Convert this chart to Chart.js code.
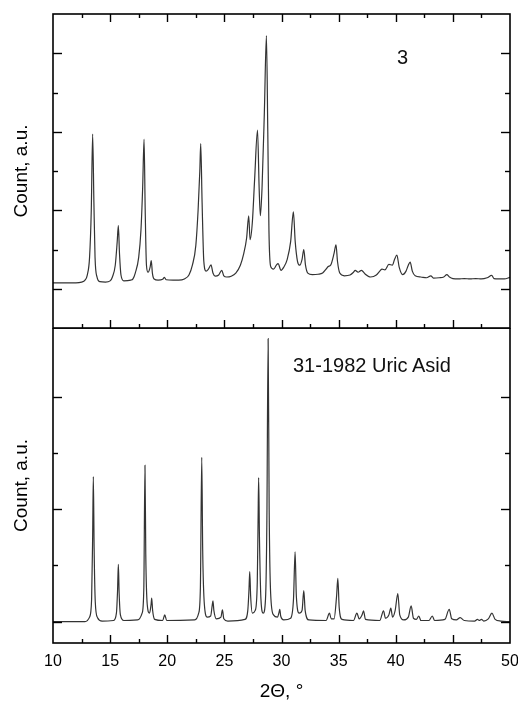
<!DOCTYPE html>
<html>
<head>
<meta charset="utf-8">
<script src="https://cdn.jsdelivr.net/npm/chart.js@4/dist/chart.umd.min.js"></script>
<style>
  body { margin: 0; background: #fff; }
  #wrap { position: relative; width: 518px; height: 701px; overflow: hidden; font-family: "Liberation Sans", Arial, sans-serif; }
  canvas { position: absolute; left: 0; }
  #cTop { top: 0; }
  #cBot { top: 328px; }
  .lbl { position: absolute; font-size: 20px; color: #111; white-space: nowrap; line-height: 1; }
</style>
</head>
<body>
<div id="wrap">
  <canvas id="cTop" width="518" height="329"></canvas>
  <canvas id="cBot" width="518" height="373"></canvas>
  <div class="lbl" style="left:397px; top:47px;">3</div>
  <div class="lbl" style="left:293px; top:355px;">31-1982 Uric Asid</div>
</div>
<script>
// ---------------------------------------------------------------
// données (2θ en degrés, intensité en u.a.)
// ---------------------------------------------------------------
var xMin = 10, xMax = 50, xLabelStep = 5;

// échantillon "3" (panneau du haut)
var sampleTheta = [10, 11, 12, 12.5, 12.8, 13.0, 13.2, 13.35, 13.47, 13.58, 13.68, 13.85, 14.1, 14.6, 15.0,
  15.2, 15.45, 15.62, 15.72, 15.82, 15.95, 16.2, 16.8, 17.0,
  17.2, 17.5, 17.7, 17.85, 17.97, 18.07, 18.18, 18.32, 18.5, 18.6, 18.7, 18.85, 19.2, 19.6, 19.75, 19.9, 20.5, 21.0, 21.5,
  21.9, 22.2, 22.5, 22.7, 22.85, 22.93, 23.05, 23.2, 23.4, 23.6, 23.83, 24.0, 24.2, 24.5, 24.77, 24.95, 25.2, 25.6,
  26.0, 26.4, 26.7, 26.95, 27.13, 27.25, 27.45, 27.65, 27.9, 28.05, 28.15, 28.3, 28.5, 28.68, 28.8, 28.9, 29.05,
  29.3, 29.55, 29.7, 29.96, 30.2, 30.5, 30.8, 31.04, 31.2, 31.4, 31.6, 31.8, 31.95, 32.1, 32.3, 32.7, 33.2, 33.6,
  33.9, 34.1, 34.3, 34.6, 34.77, 34.9, 35.1, 35.5, 36.0, 36.3, 36.45, 36.7, 37.0, 37.3, 37.8, 38.3, 38.6, 38.8,
  39.05, 39.4, 39.7, 39.9, 40.1, 40.3, 40.6, 40.9, 41.1, 41.26, 41.45, 41.7, 42.2, 42.7, 43.07, 43.3, 43.8, 44.2,
  44.47, 44.7, 45.0, 45.5, 46.0, 46.5, 47.0, 47.5, 48.0, 48.4, 48.6, 49.0, 49.5, 50];
var sampleCount = [0.15, 0.15, 0.15, 0.17, 0.22, 0.35, 0.8, 2.0, 3.94, 2.2, 0.8, 0.3, 0.18, 0.17, 0.2,
  0.3, 0.6, 1.2, 1.61, 0.9, 0.35, 0.2, 0.22, 0.25,
  0.4, 0.8, 1.5, 2.6, 3.81, 2.0, 0.6, 0.42, 0.55, 0.72, 0.4, 0.25, 0.22, 0.24, 0.29, 0.23, 0.22, 0.22, 0.25,
  0.35, 0.6, 1.1, 2.0, 3.0, 3.70, 2.2, 0.7, 0.45, 0.5, 0.61, 0.4, 0.32, 0.35, 0.47, 0.33, 0.3, 0.32,
  0.4, 0.6, 0.9, 1.3, 1.86, 1.25, 1.7, 2.8, 4.04, 2.5, 1.86, 2.6, 4.5, 6.45, 4.0, 1.5, 0.57,
  0.5, 0.6, 0.64, 0.47, 0.55, 0.75, 1.2, 1.96, 1.2, 0.7, 0.6, 0.75, 1.0, 0.6, 0.4, 0.36, 0.37, 0.4,
  0.5, 0.57, 0.6, 0.9, 1.12, 0.7, 0.4, 0.33, 0.35, 0.42, 0.47, 0.42, 0.47, 0.38, 0.3, 0.35, 0.45, 0.5,
  0.48, 0.62, 0.6, 0.75, 0.86, 0.55, 0.36, 0.45, 0.6, 0.68, 0.45, 0.33, 0.3, 0.28, 0.33, 0.27, 0.28, 0.3,
  0.36, 0.3, 0.26, 0.25, 0.26, 0.25, 0.26, 0.25, 0.28, 0.34, 0.26, 0.25, 0.25, 0.29];

// fiche 31-1982 acide urique (panneau du bas)
var refTheta = [10, 12.8, 13.2, 13.38, 13.47, 13.53, 13.6, 13.7, 13.9, 14.3, 15.3, 15.55, 15.65, 15.72, 15.79, 15.9, 16.2,
  17.4, 17.8, 17.95, 18.05, 18.12, 18.25, 18.45, 18.58, 18.64, 18.72, 18.9, 19.6, 19.78, 19.95,
  22.4, 22.75, 22.9, 23.02, 23.1, 23.25, 23.5, 23.8, 23.93, 24.0, 24.08, 24.3, 24.7, 24.83, 24.95, 25.3,
  26.8, 27.05, 27.15, 27.22, 27.3, 27.45, 27.7, 27.88, 27.95, 28.0, 28.07, 28.2, 28.4, 28.6, 28.72, 28.83, 28.92, 29.05,
  29.3, 29.65, 29.78, 29.85, 29.93, 30.2, 30.8, 31.05, 31.19, 31.3, 31.55, 31.8, 31.95, 32.07, 32.4,
  33.9, 34.2, 34.35, 34.6, 34.82, 34.93, 35.05, 35.3, 36.3, 36.6, 36.8, 37.05, 37.18, 37.35,
  38.6, 38.93, 39.1, 39.4, 39.57, 39.72, 39.95, 40.18, 40.35, 40.7, 41.1, 41.35, 41.55, 41.8, 42.02, 42.2,
  42.9, 43.2, 43.4, 44.3, 44.68, 44.9, 45.3, 45.64, 46.0, 46.9, 47.15, 47.3, 47.5, 47.7, 48.1, 48.42, 48.7, 49.2, 50];
var refCount = [0, 0, 0.08, 0.4, 1.5, 2.58, 1.3, 0.35, 0.07, 0.01, 0.02, 0.15, 0.55, 1.02, 0.5, 0.12, 0.02,
  0.03, 0.15, 0.6, 2.78, 1.2, 0.3, 0.15, 0.3, 0.42, 0.2, 0.04, 0.02, 0.12, 0.02,
  0.03, 0.15, 0.6, 2.92, 1.3, 0.3, 0.08, 0.1, 0.28, 0.37, 0.2, 0.05, 0.08, 0.21, 0.05, 0.01,
  0.04, 0.2, 0.55, 0.89, 0.45, 0.15, 0.2, 0.7, 1.8, 2.56, 1.5, 0.4, 0.15, 0.4, 1.8, 5.03, 2.0, 0.5,
  0.12, 0.08, 0.16, 0.22, 0.1, 0.03, 0.06, 0.4, 1.24, 0.45, 0.15, 0.2, 0.55, 0.2, 0.03,
  0.02, 0.15, 0.05, 0.05, 0.45, 0.77, 0.25, 0.04, 0.02, 0.15, 0.05, 0.12, 0.19, 0.04,
  0.02, 0.19, 0.06, 0.12, 0.24, 0.08, 0.2, 0.5, 0.12, 0.03, 0.08, 0.28, 0.06, 0.04, 0.1, 0.02,
  0.02, 0.1, 0.02, 0.04, 0.22, 0.05, 0.03, 0.07, 0.02, 0.01, 0.04, 0.02, 0.04, 0.01, 0.05, 0.15, 0.04, 0.01, 0];

var titreY = 'Count, a.u.';
var titreX = '2\u0398, \u00b0';

// ---------------------------------------------------------------
// cadre + graduations vers l'intérieur (style Origin)
// ---------------------------------------------------------------
var cadreGraduations = {
  id: 'cadreGraduations',
  afterDraw: function(chart, args, opts) {
    var ctx = chart.ctx, a = chart.chartArea, sx = chart.scales.x, sy = chart.scales.y;
    function trait(x1, y1, x2, y2) { ctx.beginPath(); ctx.moveTo(x1, y1); ctx.lineTo(x2, y2); ctx.stroke(); }
    ctx.save();
    ctx.strokeStyle = '#000';
    ctx.lineWidth = 1.6;
    ctx.strokeRect(a.left, a.top, a.right - a.left, a.bottom - a.top);
    ctx.lineWidth = 1.4;
    sx.ticks.forEach(function(t) {
      if (t.value <= sx.min || t.value >= sx.max) return;
      var px = Math.round(sx.getPixelForValue(t.value)) + 0.5;
      var len = (t.value % 5 === 0) ? 8 : 4;
      if (opts.xBas) trait(px, a.bottom, px, a.bottom - len);
      if (opts.xHaut) trait(px, a.top, px, a.top + len);
    });
    sy.ticks.forEach(function(t) {
      var v = t.value;
      if (Math.abs(v - Math.round(v)) > 1e-6) return;
      v = Math.round(v);
      if (v <= sy.min || v >= sy.max) return;
      var py = Math.round(sy.getPixelForValue(v)) + 0.5;
      var len = (v % 2 === 0) ? 9 : 5;
      trait(a.left, py, a.left + len, py);
      trait(a.right, py, a.right - len, py);
    });
    ctx.restore();
  }
};

function points(xs, ys) {
  return xs.map(function(x, i) { return { x: x, y: ys[i] }; });
}

function buildPanel(id, xs, ys, yMin, yMax, bas) {
  var ctx = document.getElementById(id).getContext('2d');
  return new Chart(ctx, {
    type: 'line',
    data: {
      datasets: [{
        data: points(xs, ys),
        borderColor: '#333',
        borderWidth: 1.2,
        pointRadius: 0,
        fill: false,
        cubicInterpolationMode: 'monotone'
      }]
    },
    options: {
      responsive: false,
      devicePixelRatio: 1,
      animation: false,
      layout: { autoPadding: false, padding: { top: bas ? 0 : 14, right: 8, left: 0, bottom: 0 } },
      plugins: {
        legend: { display: false },
        tooltip: { enabled: false },
        cadreGraduations: { xBas: true, xHaut: !bas }
      },
      scales: {
        x: {
          type: 'linear',
          min: xMin,
          max: xMax,
          grid: { display: false, drawTicks: false },
          border: { display: false },
          ticks: {
            display: bas,
            stepSize: 2.5,
            autoSkip: false,
            maxRotation: 0,
            padding: 9,
            color: '#000',
            font: { family: 'Liberation Sans', size: 16 },
            callback: function(v) { return (v % xLabelStep === 0) ? String(v) : ''; }
          },
          title: {
            display: bas,
            text: titreX,
            color: '#000',
            font: { family: 'Liberation Sans', size: 19 },
            padding: { top: 0, bottom: -2 }
          },
          afterFit: function(s) {
            s.height = bas ? 58 : 1;
            s.paddingLeft = 0;
            s.paddingRight = 0;
          }
        },
        y: {
          min: yMin,
          max: yMax,
          grid: { display: false, drawTicks: false },
          border: { display: false },
          ticks: { display: false, stepSize: 1 },
          title: {
            display: true,
            text: titreY,
            color: '#000',
            font: { family: 'Liberation Sans', size: 19 },
            padding: { top: 10, bottom: 0 }
          },
          afterFit: function(s) {
            s.width = 53;
            s.paddingTop = 0;
            s.paddingBottom = 0;
          }
        }
      }
    },
    plugins: [cadreGraduations]
  });
}

buildPanel('cTop', sampleTheta, sampleCount, -1, 7, false);
buildPanel('cBot', refTheta, refCount, -0.38, 5.22, true);
</script>
</body>
</html>
